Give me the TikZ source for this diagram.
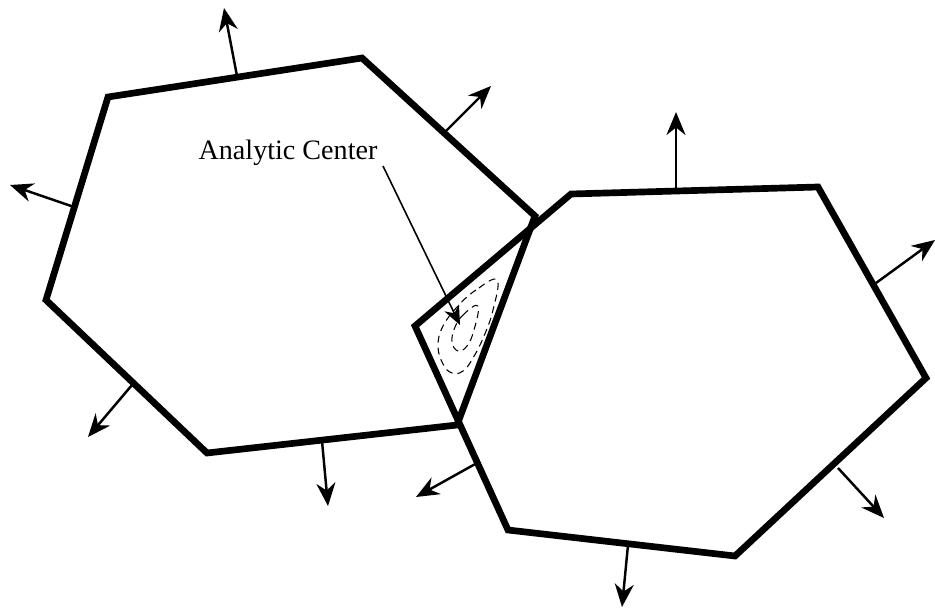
\documentclass[tikz,border=0pt]{standalone}
\usepackage{fontspec}
\setmainfont{Liberation Serif}
\usetikzlibrary{arrows.meta}

\tikzset{
  hexline/.style={line width=3.8pt, line join=miter},
  normalarrow/.style={line width=1.4pt, -{Stealth[length=0.46cm,width=0.38cm,inset=0.15cm]}},
  labelarrow/.style={line width=0.9pt, -{Stealth[length=0.38cm,width=0.32cm,inset=0.12cm]}},
  contour/.style={line width=0.6pt, dash pattern=on 4pt off 2.8pt}
}

\begin{document}
\begin{tikzpicture}[x=0.02cm,y=-0.02cm]
\useasboundingbox (0,0) rectangle (935,611);

% left polyhedron
\coordinate (L1) at (108,97);
\coordinate (L2) at (362,58);
\coordinate (L3) at (535,216);
\coordinate (L4) at (457,425);
\coordinate (L5) at (207,453);
\coordinate (L6) at (46,300);
\draw[hexline] (L1) -- (L2) -- (L3) -- (L4) -- (L5) -- (L6) -- cycle;

% right polyhedron
\coordinate (R1) at (571,194);
\coordinate (R2) at (818,187);
\coordinate (R3) at (926,378);
\coordinate (R4) at (735,556);
\coordinate (R5) at (508,530);
\coordinate (R6) at (415,326);
\draw[hexline] (R1) -- (R2) -- (R3) -- (R4) -- (R5) -- (R6) -- cycle;

% normals of the left one
\draw[normalarrow] (237,76) -- (224,8);
\draw[normalarrow] (446,131) -- (491,86);
\draw[normalarrow] (74,207) -- (10,185);
\draw[normalarrow] (132,385) -- (88,437);
\draw[normalarrow] (322,441) -- (328,506);

% normals of the right one
\draw[normalarrow] (676,191) -- (676,112);
\draw[normalarrow] (876,283) -- (935,240);
\draw[normalarrow] (838,468) -- (884,518);
\draw[normalarrow] (628,545) -- (622,607);
\draw[normalarrow] (477,463) -- (416,497);

% level sets in the intersection
\draw[contour] plot[smooth cycle, tension=0.7] coordinates
  {(497,280) (476,290) (458,306) (443,326) (438,346) (443,364)
   (452,373) (463,371) (473,358) (484,336) (493,310)};
\draw[contour] plot[smooth cycle, tension=0.7] coordinates
  {(478,306) (464,314) (455,327) (452,342) (458,351) (467,346) (474,330)};

% label
\node (ac) at (288,153) {\fontsize{16}{19}\selectfont Analytic Center};
\coordinate (center) at (460,325);
\draw[labelarrow] (383,166) -- (center);
\end{tikzpicture}
\end{document}
